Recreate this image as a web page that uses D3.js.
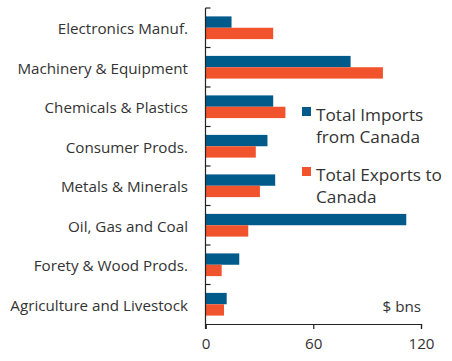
<!DOCTYPE html>
<html>
<head>
<meta charset="utf-8">
<script src="https://cdn.jsdelivr.net/npm/d3@7"></script>
<style>
  html, body { margin: 0; padding: 0; background: #fff; }
  svg text { font-family: "Open Sans", sans-serif; fill: #333; }
</style>
</head>
<body>
<svg id="chart" width="452" height="361"></svg>
<script>
// Trade with Canada by sector, $ bns
const categories = [
  "Electronics Manuf.",
  "Machinery & Equipment",
  "Chemicals & Plastics",
  "Consumer Prods.",
  "Metals & Minerals",
  "Oil, Gas and Coal",
  "Forety & Wood Prods.",
  "Agriculture and Livestock"
];
const importsFromCanada = [14.5, 80.8, 37.7, 34.5, 38.8, 111.8, 18.8, 11.8];
const exportsToCanada   = [37.7, 98.8, 44.5, 28.0, 30.3, 23.8, 9.0, 10.3];
const seriesNames = ["Total Imports from Canada", "Total Exports to Canada"];
const xTicks = [0, 60, 120];
const unitLabel = "$ bns";

const colors = ["#005b8a", "#f1532c"];
const margin = { top: 8, right: 31, bottom: 37, left: 205.5 };
const W = 452, H = 361;

const svg = d3.select("#chart");
const g = svg.append("g");

const x = d3.scaleLinear().domain([0, 120]).range([margin.left, W - margin.right]);
const y = d3.scaleBand().domain(categories).range([margin.top, H - margin.bottom])
  .paddingInner(0).paddingOuter(0);
const inner = d3.scaleBand().domain([0, 1]).range([0, y.bandwidth()]).paddingOuter(0.74).paddingInner(0);

const series = [importsFromCanada, exportsToCanada];

// bars
series.forEach((vals, si) => {
  g.selectAll(".bar" + si)
    .data(categories.map((c, i) => ({ c, v: vals[i] })))
    .join("rect")
    .attr("x", x(0))
    .attr("y", d => y(d.c) + inner(si))
    .attr("width", d => x(d.v) - x(0))
    .attr("height", inner.bandwidth())
    .attr("fill", colors[si]);
});

// category labels
g.selectAll(".cat")
  .data(categories)
  .join("text")
  .attr("x", 188)
  .attr("y", d => y(d) + y.bandwidth() / 2 + 1)
  .attr("dy", "0.35em")
  .attr("text-anchor", "end")
  .attr("font-size", 15.2)
  .text(d => d);

// vertical axis with inward ticks at band boundaries
const bounds = categories.map(c => y(c));
g.append("line")
  .attr("x1", x(0)).attr("x2", x(0))
  .attr("y1", margin.top).attr("y2", H - margin.bottom + 5)
  .attr("stroke", "#222").attr("stroke-width", 1.2);
g.selectAll(".ytick")
  .data(bounds)
  .join("line")
  .attr("x1", x(0)).attr("x2", x(0) + 5)
  .attr("y1", d => d).attr("y2", d => d)
  .attr("stroke", "#222").attr("stroke-width", 1.2);

// horizontal axis
const xAxis = d3.axisBottom(x).tickValues(xTicks).tickSize(5).tickPadding(9).tickFormat(d3.format("d"));
const ax = g.append("g")
  .attr("transform", `translate(0,${H - margin.bottom})`)
  .call(xAxis);
ax.select(".domain").attr("stroke", "#222").attr("stroke-width", 1.2);
ax.selectAll(".tick line").attr("stroke", "#222").attr("stroke-width", 1.2);
ax.selectAll(".tick text").attr("font-size", 15.2).attr("font-family", "Open Sans, sans-serif").attr("fill", "#333");

// unit label
g.append("text")
  .attr("x", x(120)).attr("y", 312)
  .attr("text-anchor", "end")
  .attr("font-size", 15.2)
  .text(unitLabel);

// legend, two wrapped lines per entry
const legendLines = [["Total Imports", "from Canada"], ["Total Exports to", "Canada"]];
const legendTop = [107, 167];
const lineGap = 22;
legendLines.forEach((lines, i) => {
  const lg = g.append("g");
  lg.append("rect")
    .attr("x", 302).attr("y", legendTop[i])
    .attr("width", 9).attr("height", 9)
    .attr("fill", colors[i]);
  lg.selectAll("text")
    .data(lines)
    .join("text")
    .attr("x", 316)
    .attr("y", (d, j) => legendTop[i] + 14 + j * lineGap)
    .attr("font-size", 17.2)
    .text(d => d);
});
</script>
</body>
</html>
